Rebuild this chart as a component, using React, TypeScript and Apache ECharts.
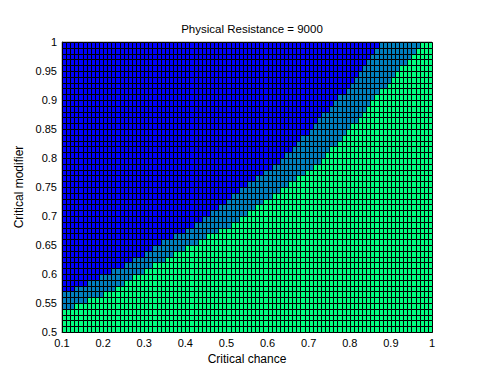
import React, { useEffect, useRef } from "react";
import * as echarts from "echarts";

// Grid of the pcolor plot: columns start at 0.10 … 0.99 (step 0.01), rows start at 0.50 … 0.99 (step 0.01)
const xStart = 0.1;
const xCells = 90;
const yStart = 0.5;
const yCells = 50;
const cellStep = 0.01;

// Per row (bottom to top): x where the dark-blue region ends (0.1 = no blue)
const blueEnd = [
  0.1, 0.1, 0.1, 0.1, 0.1, 0.1, 0.1, 0.13, 0.16, 0.19,
  0.22, 0.25, 0.27, 0.3, 0.32, 0.34, 0.37, 0.4, 0.42, 0.44,
  0.46, 0.48, 0.5, 0.51, 0.53, 0.55, 0.57, 0.59, 0.61, 0.63,
  0.64, 0.66, 0.67, 0.68, 0.7, 0.71, 0.72, 0.73, 0.75, 0.76,
  0.77, 0.79, 0.8, 0.81, 0.82, 0.83, 0.84, 0.85, 0.86, 0.87,
];

// Per row (bottom to top): x where the green region starts
const greenStart = [
  0.1, 0.1, 0.1, 0.1, 0.13, 0.16, 0.2, 0.23, 0.25, 0.27,
  0.3, 0.32, 0.35, 0.37, 0.4, 0.43, 0.45, 0.48, 0.51, 0.53,
  0.55, 0.57, 0.59, 0.61, 0.63, 0.65, 0.67, 0.69, 0.71, 0.73,
  0.74, 0.75, 0.77, 0.78, 0.79, 0.8, 0.82, 0.83, 0.84, 0.85,
  0.86, 0.87, 0.89, 0.9, 0.91, 0.92, 0.94, 0.95, 0.96, 0.97,
];

const levelColors = ["#0000ff", "#0080bf", "#00ff80"];

const titleText = "Physical Resistance = 9000";
const xName = "Critical chance";
const yName = "Critical modifier";

function buildCells(): number[][] {
  const out: number[][] = [];
  for (let j = 0; j < yCells; j++) {
    const b = Math.round((blueEnd[j] - xStart) / cellStep);
    const g = Math.round((greenStart[j] - xStart) / cellStep);
    for (let i = 0; i < xCells; i++) {
      const level = i < b ? 0 : i < g ? 1 : 2;
      out.push([
        +(xStart + i * cellStep).toFixed(2),
        +(yStart + j * cellStep).toFixed(2),
        level,
      ]);
    }
  }
  return out;
}

const FONT = "'Liberation Sans', Arial, Helvetica, sans-serif";

export default function App() {
  const ref = useRef<HTMLDivElement>(null);
  useEffect(() => {
    if (!ref.current) return;
    const chart = echarts.init(ref.current, undefined, { renderer: "svg" });
    chart.setOption({
      animation: false,
      backgroundColor: "#ffffff",
      title: {
        text: titleText,
        left: 247,
        textAlign: "center",
        top: 18,
        textStyle: { fontSize: 11.5, fontWeight: "normal", color: "#000", fontFamily: FONT },
      },
      grid: {
        left: 62,
        right: 48,
        top: 42,
        bottom: 54,
        show: true,
        borderColor: "#888",
        borderWidth: 1,
        backgroundColor: "transparent",
      },
      xAxis: {
        type: "value",
        min: 0.1,
        max: 1,
        interval: 0.1,
        name: xName,
        nameLocation: "middle",
        nameGap: 19,
        nameTextStyle: { fontSize: 12, color: "#000", fontFamily: FONT },
        axisLine: { show: true, lineStyle: { color: "#444" } },
        axisTick: { show: false },
        splitLine: { show: false },
        axisLabel: {
          fontSize: 11,
          color: "#000",
          fontFamily: FONT,
          margin: 5,
          formatter: (v: number) => String(+v.toFixed(2)),
        },
      },
      yAxis: {
        type: "value",
        min: 0.5,
        max: 1,
        interval: 0.05,
        name: yName,
        nameLocation: "middle",
        nameGap: 34,
        nameTextStyle: { fontSize: 12, color: "#000", fontFamily: FONT },
        axisLine: { show: true, lineStyle: { color: "#444" } },
        axisTick: { show: false },
        splitLine: { show: false },
        axisLabel: {
          fontSize: 11,
          color: "#000",
          fontFamily: FONT,
          margin: 5,
          formatter: (v: number) => String(+v.toFixed(2)),
        },
      },
      series: [
        {
          type: "custom",
          coordinateSystem: "cartesian2d",
          data: buildCells(),
          encode: { x: 0, y: 1 },
          renderItem: (params: any, api: any) => {
            const x = api.value(0);
            const y = api.value(1);
            const p0 = api.coord([x, y + cellStep]);
            const p1 = api.coord([x + cellStep, y]);
            const x0 = Math.round(p0[0]);
            const y0 = Math.round(p0[1]);
            const x1 = Math.round(p1[0]);
            const y1 = Math.round(p1[1]);
            return {
              type: "rect",
              shape: { x: x0 + 0.5, y: y0 + 0.5, width: x1 - x0, height: y1 - y0 },
              style: { fill: levelColors[api.value(2)], stroke: "#000", lineWidth: 1 },
            };
          },
        },
      ],
    });
    return () => chart.dispose();
  }, []);
  return (
    <div
      ref={ref}
      style={{ position: "absolute", left: 0, top: 0, width: 480, height: 386 }}
    />
  );
}
